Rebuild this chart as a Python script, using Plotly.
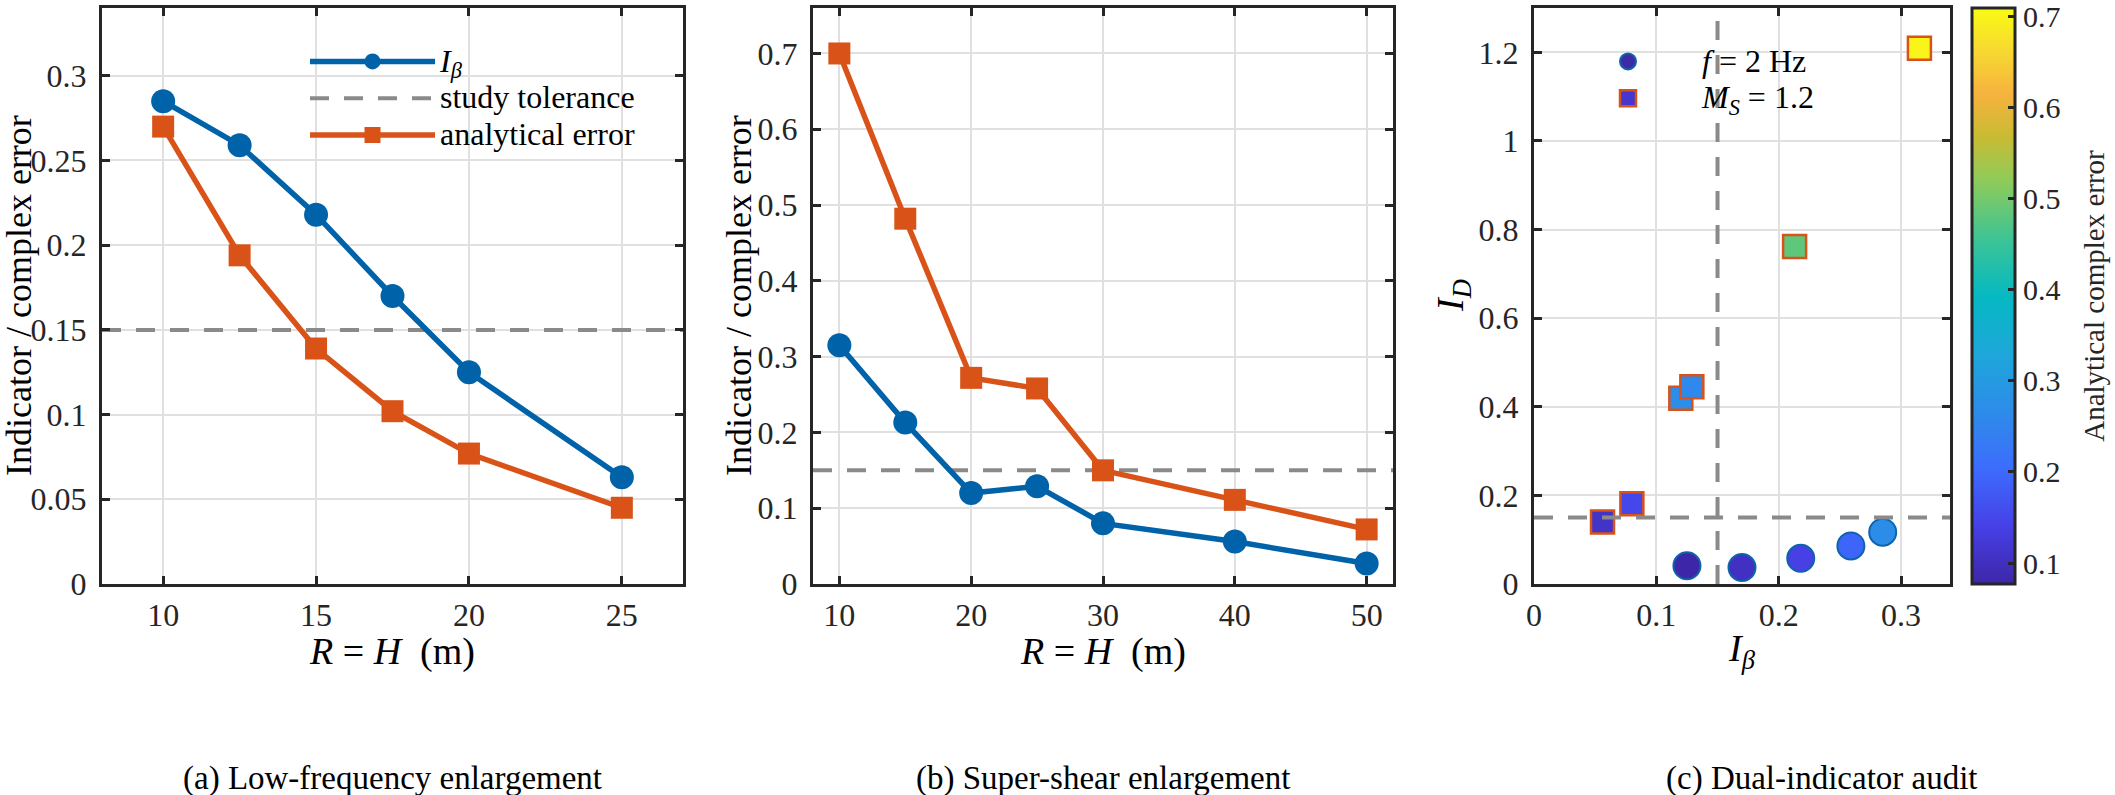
import plotly.graph_objects as go

# ---------------- data ----------------
# (a) Low-frequency enlargement
R_a = [10, 12.5, 15, 17.5, 20, 25]
ib_a = [0.285, 0.259, 0.218, 0.170, 0.125, 0.063]
err_a = [0.270, 0.194, 0.139, 0.102, 0.077, 0.045]
# (b) Super-shear enlargement
R_b = [10, 15, 20, 25, 30, 40, 50]
ib_b = [0.315, 0.213, 0.120, 0.129, 0.080, 0.056, 0.027]
err_b = [0.700, 0.482, 0.272, 0.258, 0.150, 0.111, 0.072]
# (c) Dual-indicator audit (I_D for the audited cases)
id_lowfreq = [0.117, 0.086, 0.058, 0.037, 0.041]        # R = 10 ... 20 of (a)
id_super = [1.209, 0.762, 0.419, 0.445, 0.181, 0.140]   # R = 10 ... 40 of (b)
tolerance = 0.15

# tick labels
a_xticks = [10, 15, 20, 25]
a_yticks = [0, 0.05, 0.1, 0.15, 0.2, 0.25, 0.3]
a_ytext = ["0", "0.05", "0.1", "0.15", "0.2", "0.25", "0.3"]
b_xticks = [10, 20, 30, 40, 50]
b_yticks = [0, 0.1, 0.2, 0.3, 0.4, 0.5, 0.6, 0.7]
b_ytext = ["0", "0.1", "0.2", "0.3", "0.4", "0.5", "0.6", "0.7"]
c_xticks = [0, 0.1, 0.2, 0.3]
c_xtext = ["0", "0.1", "0.2", "0.3"]
c_yticks = [0, 0.2, 0.4, 0.6, 0.8, 1.0, 1.2]
c_ytext = ["0", "0.2", "0.4", "0.6", "0.8", "1", "1.2"]
cb_ticks = [0.1, 0.2, 0.3, 0.4, 0.5, 0.6, 0.7]
cb_text = ["0.1", "0.2", "0.3", "0.4", "0.5", "0.6", "0.7"]
cb_top = 0.709  # upper end of the colour scale

captions = ["(a) Low-frequency enlargement", "(b) Super-shear enlargement", "(c) Dual-indicator audit"]

# ---------------- style ----------------
W, H = 2115, 795
BLUE = "#0063a9"
ORANGE = "#d95319"
GRAY = "#8a8a8a"
AX = "#262626"
FONT = "Liberation Serif"

parula = [
    [0.00, "#3e26a8"], [0.10, "#4640e6"], [0.20, "#3d6cfd"], [0.30, "#2d8ce9"],
    [0.40, "#1ea7da"], [0.50, "#06b9c2"], [0.60, "#3ec494"], [0.70, "#8ecb5a"],
    [0.78, "#cbbb33"], [0.85, "#f6b23e"], [0.92, "#f7d633"], [1.00, "#f9fb14"],
]

xr_a = [8, 27]
yr_a = [0, 0.34]
xr_b = [8, 52]
yr_b = [0, 0.76]
xr_c = [0, 0.34]
yr_c = [0, 1.3]

def px(v):
    return v / W

def py(v):
    return 1 - v / H

ydom = [py(584), py(8)]

def axis(domain, rng, tv, tt, anchor, standoff):
    return dict(
        domain=domain, range=rng, tickmode="array", tickvals=tv, ticktext=tt,
        showgrid=True, gridcolor="#e0e0e0", gridwidth=2, zeroline=False,
        showline=True, linecolor=AX, linewidth=3, mirror="ticks",
        ticks="inside", ticklen=8, tickwidth=3, tickcolor=AX,
        tickfont=dict(family=FONT, size=32, color=AX), anchor=anchor,
        ticklabelstandoff=standoff, fixedrange=True, automargin=False,
    )

fig = go.Figure()

LW = 5.5
dash = "19px,15px"

# ---- panel (a)
fig.add_trace(go.Scatter(x=xr_a, y=[tolerance, tolerance], mode="lines",
                         line=dict(color=GRAY, width=4, dash=dash),
                         name="<span style='font-size:32px'>study tolerance</span>",
                         legend="legend", legendrank=2, xaxis="x", yaxis="y"))
fig.add_trace(go.Scatter(x=R_a, y=ib_a, mode="lines+markers",
                         line=dict(color=BLUE, width=LW),
                         marker=dict(symbol="circle", size=24, color=BLUE),
                         name="<span style='font-size:32px'><i>I</i><sub><i>β</i></sub></span>",
                         legend="legend", legendrank=1, xaxis="x", yaxis="y"))
fig.add_trace(go.Scatter(x=R_a, y=err_a, mode="lines+markers",
                         line=dict(color=ORANGE, width=LW),
                         marker=dict(symbol="square", size=22, color=ORANGE),
                         name="<span style='font-size:32px'>analytical error</span>",
                         legend="legend", legendrank=3, xaxis="x", yaxis="y"))

# ---- panel (b)
fig.add_trace(go.Scatter(x=xr_b, y=[tolerance, tolerance], mode="lines",
                         line=dict(color=GRAY, width=4, dash=dash),
                         showlegend=False, xaxis="x2", yaxis="y2"))
fig.add_trace(go.Scatter(x=R_b, y=ib_b, mode="lines+markers",
                         line=dict(color=BLUE, width=LW),
                         marker=dict(symbol="circle", size=24, color=BLUE),
                         showlegend=False, xaxis="x2", yaxis="y2"))
fig.add_trace(go.Scatter(x=R_b, y=err_b, mode="lines+markers",
                         line=dict(color=ORANGE, width=LW),
                         marker=dict(symbol="square", size=22, color=ORANGE),
                         showlegend=False, xaxis="x2", yaxis="y2"))

# ---- panel (c)
n_low = len(id_lowfreq)
n_sup = len(id_super)
col_low = err_a[:n_low]
col_sup = err_b[:n_sup]
all_col = col_low + col_sup

fig.add_trace(go.Scatter(x=ib_a[:n_low], y=id_lowfreq, mode="markers",
                         marker=dict(symbol="circle", size=27, color=col_low, coloraxis="coloraxis",
                                     line=dict(color="#0e64ab", width=2)),
                         showlegend=False, xaxis="x3", yaxis="y3"))
fig.add_trace(go.Scatter(x=ib_b[:n_sup], y=id_super, mode="markers",
                         marker=dict(symbol="square", size=23, color=col_sup, coloraxis="coloraxis",
                                     line=dict(color=ORANGE, width=2.5)),
                         showlegend=False, xaxis="x3", yaxis="y3"))
fig.add_trace(go.Scatter(x=[tolerance, tolerance], y=yr_c, mode="lines",
                         line=dict(color=GRAY, width=4, dash=dash),
                         showlegend=False, xaxis="x3", yaxis="y3"))
fig.add_trace(go.Scatter(x=xr_c, y=[tolerance, tolerance], mode="lines",
                         line=dict(color=GRAY, width=4, dash=dash),
                         showlegend=False, xaxis="x3", yaxis="y3"))
# legend entries for (c)
fig.add_trace(go.Scatter(x=[None], y=[None], mode="markers",
                         marker=dict(symbol="circle", size=27, color="#3f2aa6",
                                     line=dict(color="#0e64ab", width=2)),
                         name="<span style='font-size:32px'><i>f</i> = 2 Hz</span>",
                         legend="legend2", xaxis="x3", yaxis="y3"))
fig.add_trace(go.Scatter(x=[None], y=[None], mode="markers",
                         marker=dict(symbol="square", size=23, color="#4536d0",
                                     line=dict(color=ORANGE, width=2.5)),
                         name="<span style='font-size:32px'><i>M</i><sub><i>S</i></sub> = 1.2</span>",
                         legend="legend2", xaxis="x3", yaxis="y3"))

# ---------------- annotations ----------------
ann = []
def text(x, y, s, size, angle=0):
    ann.append(dict(x=px(x), y=py(y), xref="paper", yref="paper", text=s, showarrow=False,
                    xanchor="center", yanchor="middle", textangle=angle,
                    font=dict(family=FONT, size=size, color="#000000")))

ylab = "Indicator / complex error"
text(19, 296, ylab, 36, -90)
text(739, 296, ylab, 36, -90)
text(1453, 296, "<i>I</i><sub><i>D</i></sub>", 38, -90)
text(392, 651, "<i>R</i> = <i>H</i>  (m)", 38)
text(1103, 651, "<i>R</i> = <i>H</i>  (m)", 38)
text(1742, 651, "<i>I</i><sub><i>β</i></sub>", 38)
text(392, 778, captions[0], 33)
text(1103, 778, captions[1], 33)
text(1822, 778, captions[2], 33)

cb_labels = [t + "\u00a0\u00a0" for t in cb_text]

layout = dict(
    width=W, height=H, margin=dict(l=0, r=0, t=0, b=0, autoexpand=False),
    paper_bgcolor="white", plot_bgcolor="white",
    xaxis=axis([px(102), px(683)], xr_a, a_xticks, [str(v) for v in a_xticks], "y", 1),
    yaxis=axis(ydom, yr_a, a_yticks, a_ytext, "x", 6),
    xaxis2=axis([px(813), px(1393)], xr_b, b_xticks, [str(v) for v in b_xticks], "y2", 1),
    yaxis2=axis(ydom, yr_b, b_yticks, b_ytext, "x2", 6),
    xaxis3=axis([px(1534), px(1950)], xr_c, c_xticks, c_xtext, "y3", 1),
    yaxis3=axis(ydom, yr_c, c_yticks, c_ytext, "x3", 6),
    coloraxis=dict(
        colorscale=parula, cmin=min(all_col), cmax=cb_top,
        colorbar=dict(
            x=px(1972), xanchor="left", xpad=0, y=(ydom[0] + ydom[1]) / 2, yanchor="middle",
            ypad=0, len=576, lenmode="pixels", thickness=43, thicknessmode="pixels",
            outlinewidth=3, outlinecolor=AX, ticks="inside", ticklen=8, tickwidth=3,
            tickcolor=AX, tickmode="array", tickvals=cb_ticks, ticktext=cb_labels,
            ticklabeloverflow="allow",
            tickfont=dict(family=FONT, size=30, color=AX),
            title=dict(text="Analytical complex error", side="right",
                       font=dict(family=FONT, size=29, color=AX)),
        ),
    ),
    legend=dict(x=px(305), y=py(38), xanchor="left", yanchor="top", bgcolor="rgba(0,0,0,0)",
                borderwidth=0, itemwidth=125, font=dict(family=FONT, size=26, color="#000000"),
                traceorder="normal"),
    legend2=dict(x=px(1554), y=py(38), xanchor="left", yanchor="top", bgcolor="rgba(0,0,0,0)",
                 borderwidth=0, itemwidth=138, font=dict(family=FONT, size=26, color="#000000")),
    annotations=ann,
)
fig.update_layout(**layout)
fig.write_html("out.html")
